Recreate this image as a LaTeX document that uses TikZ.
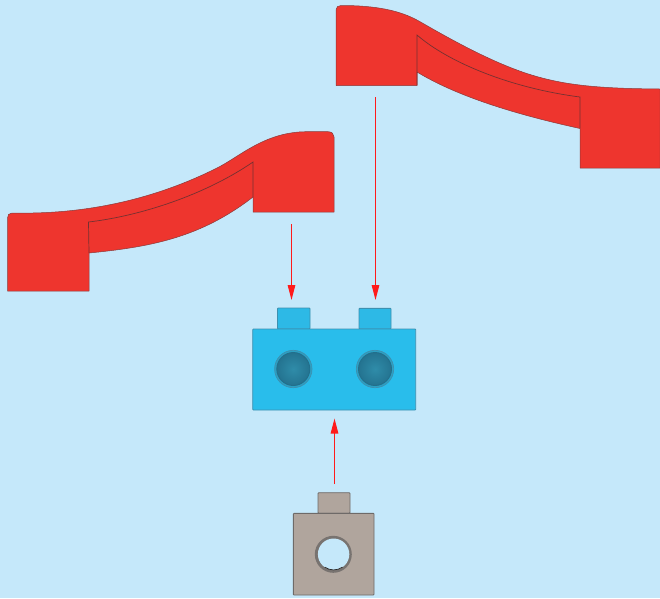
\documentclass[tikz,border=0pt]{standalone}
\usetikzlibrary{arrows.meta,calc}
\definecolor{bgc}{HTML}{C5E8FA}
\definecolor{redp}{HTML}{EE352E}
\definecolor{redd}{HTML}{8A3A3A}
\definecolor{bluep}{HTML}{29BDEB}
\definecolor{bluet}{HTML}{2DB9E6}
\definecolor{blued}{HTML}{3D90B0}
\definecolor{holed}{HTML}{2F8CA9}
\definecolor{holee}{HTML}{226F8C}
\definecolor{grayp}{HTML}{B0A59D}
\definecolor{grayd}{HTML}{6E6A68}
\definecolor{arrowred}{HTML}{FF1A1A}
\tikzset{
  redpart/.style={fill=redp,draw=redd,line width=.5pt,line join=round},
  redline/.style={draw=redd!85!black,line width=.7pt},
  bluepart/.style={fill=bluep,draw=blued,line width=.9pt,rounded corners=.8pt},
  graypart/.style={fill=grayp,draw=grayd,line width=.9pt,rounded corners=.8pt},
  fitarrow/.style={arrowred,line width=1.25pt,line cap=butt,-{Triangle[length=15pt,width=7.5pt,fill=arrowred]}},
  shaft/.style={fill=arrowred}
}
\begin{document}
\begin{tikzpicture}[x=1pt,y=-1pt]
\useasboundingbox (0,0) rectangle (660,598);
\fill[bgc] (0,0) rectangle (660,598);

% right red piece
\path[redpart] (336,85.5) -- (336,10) .. controls (336,7) and (338,5.5) .. (341,5.5)
  .. controls (375,5.5) and (400,10) .. (420,21.7)
  .. controls (445,36) and (490,62) .. (530,74.5)
  .. controls (565,85.5) and (600,88.5) .. (660,89)
  -- (660,168) -- (580,168) -- (580,128.5)
  .. controls (500,111) and (450,92) .. (417,72)
  -- (417,85.5) -- cycle;
\draw[redline] (417,85) -- (417,35)
  .. controls (448,62) and (510,88) .. (580,97) -- (580,128);

% left red piece
\path[redpart] (7.5,291) -- (7.5,218) .. controls (7.5,215) and (9,213) .. (12,213)
  .. controls (60,214) and (135,209) .. (217,168)
  .. controls (240,156.5) and (265,131.7) .. (307,131.7)
  -- (328,131.7) .. controls (332,131.7) and (334,134) .. (334,137)
  -- (334,212) -- (253,212) -- (253,197)
  .. controls (200,238) and (150,247) .. (89,253)
  -- (89,291) -- cycle;
\draw[redline] (89,253) -- (88.5,222)
  .. controls (140,216) and (205,195) .. (253,162) -- (253,197);

% blue part
\path[bluepart,fill=bluet] (277.5,329) -- (277.5,308) -- (310,308) -- (310,329) -- cycle;
\path[bluepart,fill=bluet] (359,329) -- (359,308.3) -- (391,308.3) -- (391,329) -- cycle;
\path[bluepart] (252.7,329) rectangle (415.7,410);
\foreach \cx in {293.3,375}{
  \fill[holed!60!bluep] (\cx,369) circle (18.7);
  \draw[blued,line width=.7pt] (\cx,369) circle (18.7);
  \draw[holee,line width=.9pt,inner color=holed,outer color=holee!85!holed] (\cx,369) circle (16.5);
}

% gray part
\path[graypart] (318,513.3) -- (318,492.7) -- (350,492.7) -- (350,513.3) -- cycle;
\path[graypart] (293.3,513.3) rectangle (374,595);
\fill[grayd!85!grayp] (333.3,554.3) circle (18.5);
\fill[bgc] (333.6,554.2) circle (15.7);
\draw[grayd!40!black,line width=.7pt] ([shift={(55:15.7)}]333.6,554.2) arc[start angle=55,end angle=125,radius=15.7];

% arrows
\coordinate (a1s) at (291.5,224); \coordinate (a1e) at (291.5,300);
\coordinate (a2s) at (375.5,97);  \coordinate (a2e) at (375.5,300);
\coordinate (a3s) at (334.5,484); \coordinate (a3e) at (334.5,418.5);
\draw[fitarrow] (a3s) -- (a3e);
\draw[fitarrow] (a2s) -- (a2e);
\draw[fitarrow] (a1s) -- (a1e);
\fill[shaft] ($(a1s)+(-.6,0)$) rectangle ($(a1e)+(.6,-12)$);
\fill[shaft] ($(a2s)+(-.6,0)$) rectangle ($(a2e)+(.6,-12)$);
\end{tikzpicture}
\end{document}
